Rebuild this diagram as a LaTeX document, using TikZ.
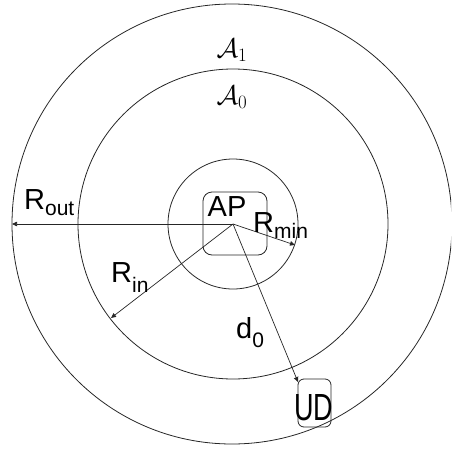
\documentclass[tikz,border=0pt]{standalone}
\usepackage{fix-cm}
\usepackage[no-math]{fontspec}
\setmainfont{Liberation Sans}
\usetikzlibrary{arrows.meta}

% label with a lowered subscript
\newcommand{\sublbl}[3][6pt]{#2\raisebox{-#1}{\fontsize{21}{21}\selectfont #3}}

\begin{document}
\begin{tikzpicture}[
    x=1pt, y=-1pt,
    ring/.style = {draw=black!85, line width=0.8pt},
    box/.style = {rectangle, draw=black!85, line width=0.8pt, rounded corners=9pt, inner sep=0pt},
    txt/.style = {inner sep=0pt, font=\fontsize{29}{29}\selectfont},
    mathtxt/.style = {inner sep=0pt, font=\fontsize{27}{27}\selectfont},
    arrow/.style = {line width=0.7pt, black!85, -{Triangle[length=5pt,width=4.5pt]}}
]
\clip (0,0) rectangle (451,453);

% centre and rings
\coordinate (c) at (233,224);
\draw [ring] (c) circle [radius=65];
\draw [ring] (c) circle [radius=155];
\draw [ring] (232,224) circle [radius=220];

% area labels
\node [mathtxt] (a1) at (232,50) {$\mathcal{A}_1$};
\node [mathtxt] (a0) at (232,97) {$\mathcal{A}_0$};

% access point and user device
\node [box, minimum width=64pt, minimum height=63pt] (apbox) at (235,223.5) {};
\node [txt] (ap) at (227,207) {AP};
\node [box, rounded corners=6pt, minimum width=33pt, minimum height=48pt] (udbox) at (314.5,403) {};
\node [txt, font=\fontsize{27}{27}\selectfont] (ud) at (314,408) {\scalebox{1}[1.4]{UD}};

% arrow ends
\coordinate (out) at (12,224);
\coordinate (min) at (295,245);
\coordinate (in) at (111,318);
\coordinate (dz) at (298,382);

% radii
\draw [arrow] (c) -- (out);
\draw [arrow] (c) -- (min);
\draw [arrow] (c) -- (in);
\draw [arrow] (c) -- (dz);

% radius labels
\node [txt, anchor=base west] (rout) at (24,209) {\sublbl{R}{out}};
\node [txt, anchor=base west] (rmin) at (253,232) {\sublbl{R}{min}};
\node [txt, anchor=base west] (rin) at (111,282) {\sublbl[10pt]{R}{in}};
\node [txt, anchor=base west] (d0) at (236,338) {\sublbl[9pt]{d}{0}};

\end{tikzpicture}
\end{document}
